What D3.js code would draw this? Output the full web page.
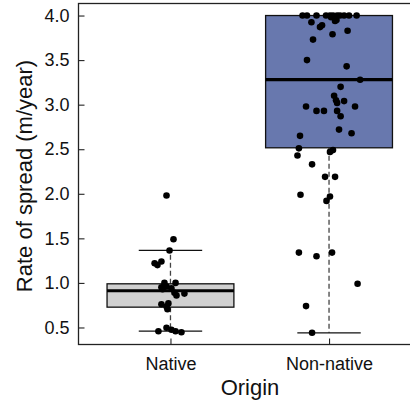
<!DOCTYPE html>
<html>
<head>
<meta charset="utf-8">
<script src="https://cdn.jsdelivr.net/npm/d3@7"></script>
<style>
  html, body { margin: 0; padding: 0; background: #fff; }
  svg { display: block; font-family: "Liberation Sans", Arial, sans-serif; }
</style>
</head>
<body>
<svg id="chart" width="410" height="402"></svg>
<script>
// Groups on the x axis
const categories = ["Native", "Non-native"];
const boxFills = ["#d0d0d0", "#6878ae"];

// Box summaries per group: whisker low, Q1, median, Q3, whisker high (m/year)
const whiskerLow = [0.458, 0.44];
const quartile1 = [0.728, 2.516];
const medians = [0.912, 3.282];
const quartile3 = [0.99, 4.0];
const whiskerHigh = [1.364, 4.0];

// Individual observations (m/year) with their horizontal jitter (category units)
const nativeValues = [1.98, 1.49, 1.364, 1.22, 1.20, 1.24, 1.00, 1.00, 0.95, 0.96, 0.94, 0.89,
  0.86, 0.88, 0.93, 0.76, 0.735, 0.77, 0.705, 0.458, 0.497, 0.474, 0.458, 0.447];
const nativeJitter = [-0.025, 0.019, -0.006, -0.10, -0.082, -0.057, -0.038, 0.032, -0.057, -0.025, 0.006, 0.025,
  0.038, 0.088, -0.05, -0.057, -0.025, -0.013, -0.019, -0.076, -0.025, 0.006, 0.032, 0.069];

const nonNativeValues = [4.0, 4.0, 4.0, 4.0, 4.0, 4.0, 4.0, 4.0, 4.0, 4.0, 4.0, 3.98, 3.99,
  3.925, 3.87, 3.89, 3.94, 3.95, 3.79, 3.83, 3.73, 3.50, 3.43, 3.28, 3.20, 3.10, 3.05, 3.02, 3.04,
  2.98, 2.93, 2.93, 2.93, 2.98, 2.87, 2.72, 2.68, 2.65, 2.51, 2.47, 2.49, 2.43, 2.33, 2.19, 2.19,
  1.99, 1.97, 1.92, 1.34, 1.30, 1.34, 0.99, 0.74, 0.44];
const nonNativeJitter = [-0.167, -0.139, -0.079, -0.019, 0.006, 0.025, 0.051, 0.069, 0.095, 0.126, 0.174, 0.013, 0.038,
  -0.111, -0.057, -0.044, 0.038, 0.047, 0.022, 0.117, -0.101, -0.139, 0.111, 0.196, 0.073, 0.032, 0.044, 0.051, 0.095,
  -0.145, -0.079, -0.032, 0.051, 0.164, 0.073, 0.063, 0.142, -0.183, -0.19, 0.006, 0.025, -0.199, -0.107, -0.025, 0.038,
  -0.18, 0.006, -0.016, -0.19, -0.079, 0.019, 0.18, -0.145, -0.107];

// Axis ticks
const yTicks = [0.5, 1.0, 1.5, 2.0, 2.5, 3.0, 3.5, 4.0];
const xLabel = "Origin";
const yLabel = "Rate of spread (m/year)";

const svg = d3.select("#chart");

// Plot region (right edge runs past the window)
const plotLeft = 78.5, plotRight = 421, plotTop = 3.5, plotBottom = 344.5;

const x = d3.scaleLinear().domain([0.42, 2.58]).range([plotLeft, plotRight]);
const y = d3.scaleLinear().domain([0.309, 4.135]).range([plotBottom, plotTop]);

const boxHalf = 0.4, capHalf = 0.2;

const groups = categories.map((c, i) => ({
  name: c, pos: i + 1, fill: boxFills[i],
  lo: whiskerLow[i], q1: quartile1[i], med: medians[i], q3: quartile3[i], hi: whiskerHigh[i]
}));

const g = svg.append("g");

// Whiskers (dashed) from box to extremes
g.selectAll("line.whisk-lo").data(groups).join("line")
  .attr("x1", d => x(d.pos)).attr("x2", d => x(d.pos))
  .attr("y1", d => y(d.q1)).attr("y2", d => y(d.lo))
  .attr("stroke", "#444").attr("stroke-width", 1.3).attr("stroke-dasharray", "5,3");
g.selectAll("line.whisk-hi").data(groups).join("line")
  .attr("x1", d => x(d.pos)).attr("x2", d => x(d.pos))
  .attr("y1", d => y(d.q3)).attr("y2", d => y(d.hi))
  .attr("stroke", "#444").attr("stroke-width", 1.3).attr("stroke-dasharray", "5,3");

// Whisker caps
["lo", "hi"].forEach(k => {
  g.selectAll("line.cap-" + k).data(groups).join("line")
    .attr("x1", d => x(d.pos - capHalf)).attr("x2", d => x(d.pos + capHalf))
    .attr("y1", d => y(d[k])).attr("y2", d => y(d[k]))
    .attr("stroke", "#111").attr("stroke-width", 1.2);
});

// Boxes
g.selectAll("rect.box").data(groups).join("rect")
  .attr("x", d => x(d.pos - boxHalf))
  .attr("width", d => x(d.pos + boxHalf) - x(d.pos - boxHalf))
  .attr("y", d => y(d.q3))
  .attr("height", d => y(d.q1) - y(d.q3))
  .attr("fill", d => d.fill).attr("stroke", "#111").attr("stroke-width", 1.3);

// Medians
g.selectAll("line.median").data(groups).join("line")
  .attr("x1", d => x(d.pos - boxHalf)).attr("x2", d => x(d.pos + boxHalf))
  .attr("y1", d => y(d.med)).attr("y2", d => y(d.med))
  .attr("stroke", "#000").attr("stroke-width", 3.2);

// Jittered points
const points = nativeValues.map((v, i) => ({ pos: 1 + nativeJitter[i], v }))
  .concat(nonNativeValues.map((v, i) => ({ pos: 2 + nonNativeJitter[i], v })));
g.selectAll("circle.pt").data(points).join("circle")
  .attr("cx", d => x(d.pos)).attr("cy", d => y(d.v))
  .attr("r", 3.3).attr("fill", "#000");

// Axes with inward ticks
const yAxis = d3.axisLeft(y).tickValues(yTicks).tickFormat(d3.format(".1f"))
  .tickSize(-6).tickPadding(9);
const ya = svg.append("g").attr("transform", `translate(${plotLeft},0)`).call(yAxis);
ya.select(".domain").remove();
ya.selectAll("line").attr("stroke", "#222").attr("stroke-width", 1.1);
ya.selectAll("text").attr("font-size", 18).attr("fill", "#111")
  .attr("font-family", "Liberation Sans, Arial, sans-serif");

const xAxis = d3.axisBottom(x).tickValues([1, 2]).tickFormat((d) => categories[d - 1])
  .tickSize(-6).tickPadding(13);
const xa = svg.append("g").attr("transform", `translate(0,${plotBottom})`).call(xAxis);
xa.select(".domain").remove();
xa.selectAll("line").attr("stroke", "#222").attr("stroke-width", 1.1);
xa.selectAll("text").attr("font-size", 18).attr("fill", "#111")
  .attr("font-family", "Liberation Sans, Arial, sans-serif");

// Plot frame
svg.append("rect")
  .attr("x", plotLeft).attr("y", plotTop)
  .attr("width", plotRight - plotLeft).attr("height", plotBottom - plotTop)
  .attr("fill", "none").attr("stroke", "#222").attr("stroke-width", 1.3);

// Axis titles
svg.append("text")
  .attr("x", 250).attr("y", 395)
  .attr("text-anchor", "middle").attr("font-size", 22).attr("fill", "#111")
  .text(xLabel);

svg.append("text")
  .attr("transform", `translate(32,${(plotTop + plotBottom) / 2 + 2}) rotate(-90)`)
  .attr("text-anchor", "middle").attr("font-size", 22).attr("fill", "#111")
  .text(yLabel);
</script>
</body>
</html>
